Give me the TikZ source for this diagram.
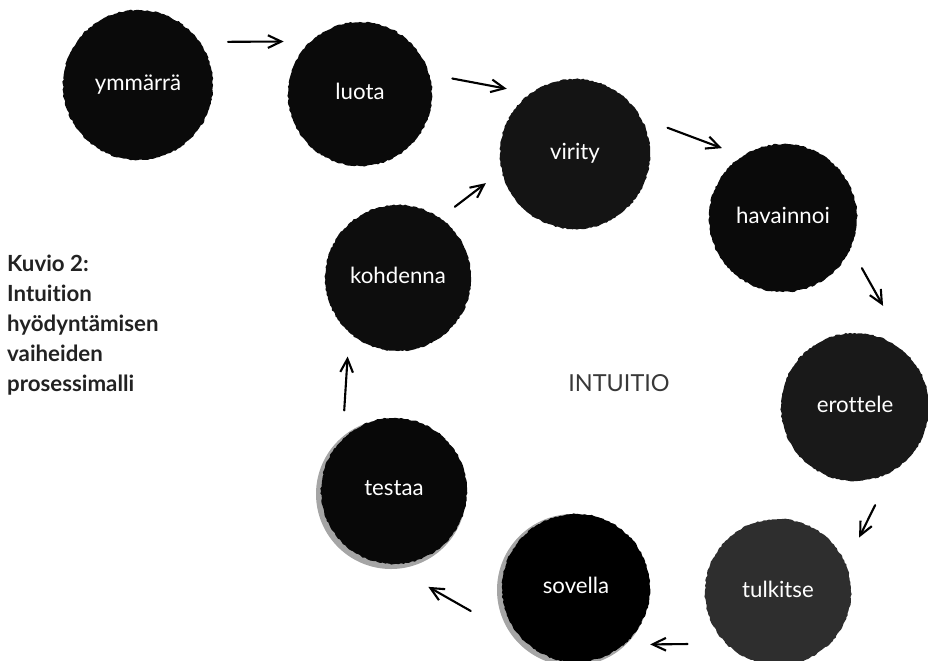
\documentclass[tikz,border=0pt]{standalone}
\usepackage{fontspec}
\setmainfont{Lato}[Ligatures=NoCommon]
\usetikzlibrary{arrows.meta, decorations.pathmorphing}
\definecolor{capgray}{RGB}{34,34,34}
\definecolor{bleed}{RGB}{165,165,165}

\begin{document}
\begin{tikzpicture}[x=0.03cm, y=-0.03cm,
  blob/.style={circle, inner sep=0pt, outer sep=0pt, minimum size=#1*0.06cm,
    text=white, font=\fontsize{19}{22}\selectfont,
    decorate, decoration={random steps, segment length=2pt, amplitude=0.6pt}},
  flow/.style={-{Straight Barb[length=4mm,width=3.8mm]}, line width=1.8pt, line cap=round},
  cut/.style 2 args={shorten <=#1*0.03cm, shorten >=#2*0.03cm}]

\useasboundingbox (0,0) rectangle (928,660);
\clip (0,0) rectangle (928,660);

% grey bleed under the lower blots
\fill[bleed] (391,494) circle (75);
\fill[bleed] (573,590) circle (76);

% ink blots, one per step
\foreach \name/\x/\y/\r/\tone/\txt in {
  ymm/138/85/75/96/ymmärrä,
  luota/360/94/72/96/luota,
  virity/575/154/75/92/virity,
  hav/783/218/74/96/havainnoi,
  erot/855/407/74/90/erottele,
  tulk/778/592/73/82/tulkitse,
  sov/576/588/74/100/sovella,
  test/394/491/73/97/testaa,
  kohd/398/278/73/95/kohdenna}
  \node[blob=\r, fill=black!\tone] (\name) at (\x,\y) {\raisebox{0.15cm}{\txt}};

% arrows between the blots
\foreach \a/\aa/\sa/\b/\bb/\sb in {
  ymm/35/28.6/luota/133.8/27.2,
  luota/16.7/23.5/virity/126.9/24.6,
  virity/29.8/28.8/hav/123/22.2,
  hav/336.1/23/erot/29.6/74.9,
  erot/300/38/tulk/22.5/30.3,
  tulk/225.4/38.8/sov/310.8/26.6,
  sov/227.1/63/test/265.6/46.8,
  test/135.6/29/kohd/228.7/24.3,
  kohd/55/18.8/virity/193.9/20.2}
  \draw[flow, cut={\sa}{\sb}] (\a.\aa) -- (\b.\bb);

\node[text=black!78, font=\fontsize{20}{24}\selectfont] (core) at (619,383) {INTUITIO};

\node[anchor=north west, align=left, inner sep=0pt, text=capgray,
  font=\bfseries\fontsize{19}{25.6}\selectfont] (caption) at (7,255)
  {Kuvio 2:\\Intuition\\hyödyntämisen\\vaiheiden\\prosessimalli};
\end{tikzpicture}
\end{document}
